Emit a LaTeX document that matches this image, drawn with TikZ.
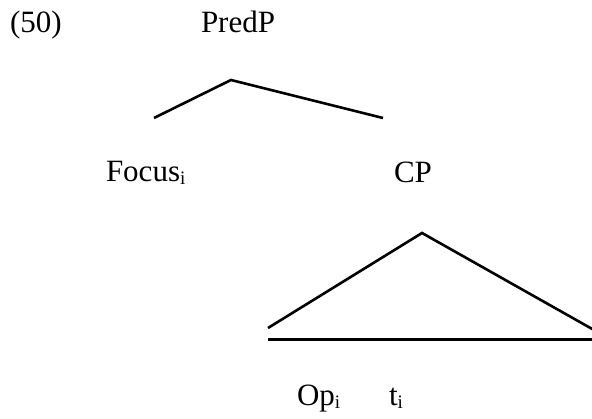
\documentclass[tikz,border=0pt]{standalone}
\usepackage{fontspec}
\setmainfont{Liberation Serif}
\newcommand{\subi}{\raisebox{-3pt}{\fontsize{19}{19}\selectfont i}}
\begin{document}
\begin{tikzpicture}[x=1pt,y=1pt,
  lbl/.style={anchor=base west,inner sep=0pt,outer sep=0pt,font=\fontsize{31}{31}\selectfont},
  branch/.style={line width=2.6pt,line cap=butt,line join=miter}]
\useasboundingbox (0,0) rectangle (592,419);
\node[lbl] (ex) at (10,386) {(50)};
\node[lbl] (predp) at (201,386) {PredP};
\node[lbl] (focus) at (106,237) {Focus\subi};
\node[lbl] (cp) at (394,236) {CP};
\node[lbl] (op) at (297,13) {Op\subi};
\node[lbl] (t) at (389,13) {t\subi};
\coordinate (pa) at (231,339);
\coordinate (pl) at (154,301);
\coordinate (pr) at (383,301);
\coordinate (ta) at (422,186);
\coordinate (tl) at (268,91);
\coordinate (tr) at (594,89);
\coordinate (bl) at (268,79.5);
\coordinate (br) at (594,79.5);
\draw[branch] (pl) -- (pa) -- (pr);
\draw[branch] (tl) -- (ta) -- (tr);
\draw[branch] (bl) -- (br);
\end{tikzpicture}
\end{document}
